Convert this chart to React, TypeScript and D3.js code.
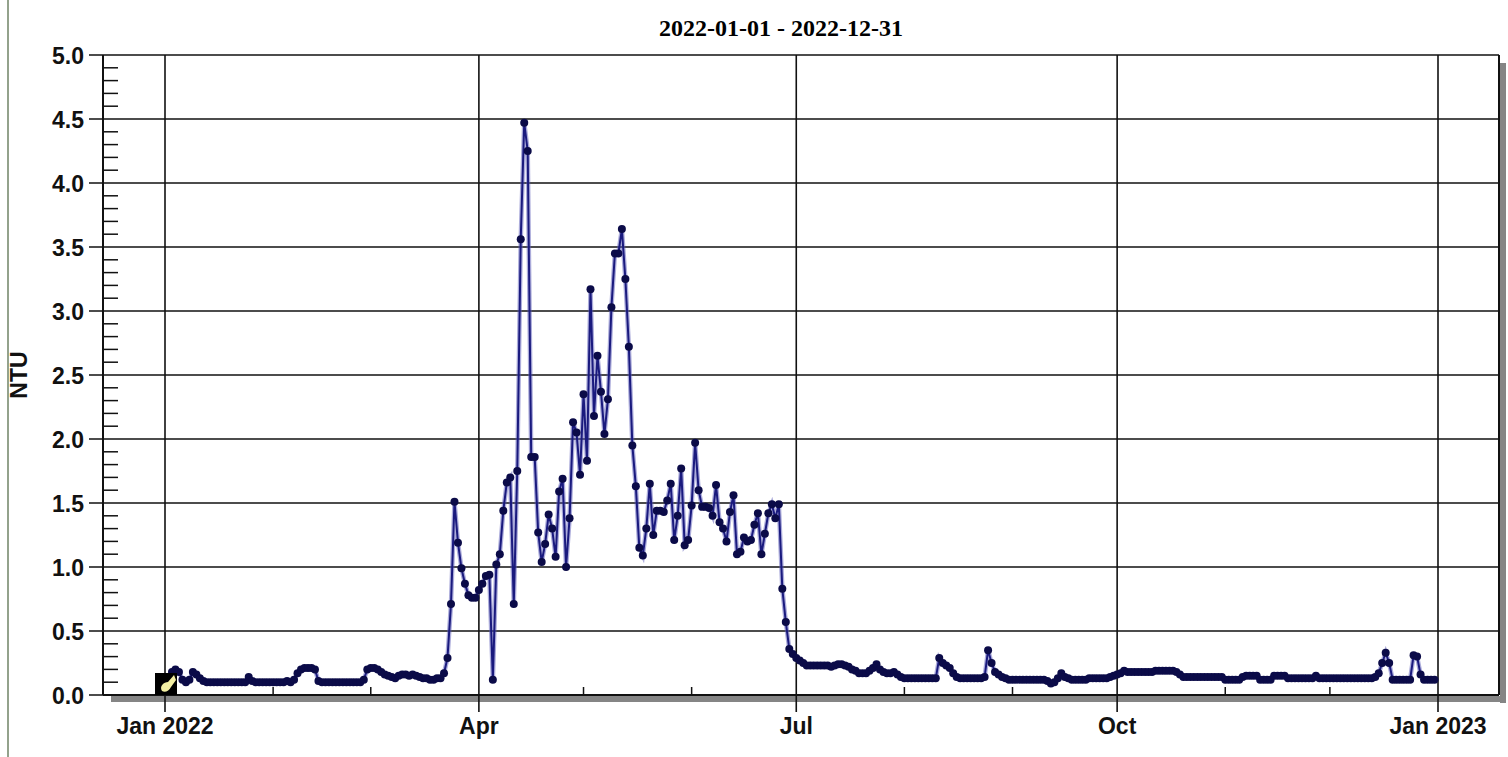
import { useEffect, useRef } from 'react'
import * as d3 from 'd3'

const title = '2022-01-01 - 2022-12-31'
const yLabel = 'NTU'
const startDate = '2022-01-01'

// daily NTU readings, one array per month
const jan = [0.10, 0.12, 0.18, 0.20, 0.18, 0.12, 0.10, 0.12, 0.18, 0.16, 0.13, 0.11, 0.10, 0.10, 0.10, 0.10, 0.10, 0.10, 0.10, 0.10, 0.10, 0.10, 0.10, 0.10, 0.14, 0.11, 0.10, 0.10, 0.10, 0.10, 0.10]
const feb = [0.10, 0.10, 0.10, 0.10, 0.11, 0.10, 0.12, 0.17, 0.20, 0.21, 0.21, 0.21, 0.20, 0.11, 0.10, 0.10, 0.10, 0.10, 0.10, 0.10, 0.10, 0.10, 0.10, 0.10, 0.10, 0.10, 0.12, 0.20]
const mar = [0.21, 0.21, 0.20, 0.18, 0.16, 0.15, 0.14, 0.13, 0.15, 0.16, 0.16, 0.15, 0.16, 0.15, 0.14, 0.13, 0.13, 0.12, 0.12, 0.13, 0.13, 0.17, 0.29, 0.71, 1.51, 1.19, 0.99, 0.87, 0.78, 0.76, 0.76]
const apr = [0.82, 0.87, 0.93, 0.94, 0.12, 1.02, 1.10, 1.44, 1.66, 1.70, 0.71, 1.75, 3.56, 4.47, 4.25, 1.86, 1.86, 1.27, 1.04, 1.18, 1.41, 1.30, 1.08, 1.59, 1.69, 1.00, 1.38, 2.13, 2.05, 1.72]
const may = [2.35, 1.83, 3.17, 2.18, 2.65, 2.37, 2.04, 2.31, 3.03, 3.45, 3.45, 3.64, 3.25, 2.72, 1.95, 1.63, 1.15, 1.09, 1.30, 1.65, 1.25, 1.44, 1.44, 1.43, 1.52, 1.65, 1.21, 1.40, 1.77, 1.17, 1.21]
const jun = [1.48, 1.97, 1.60, 1.47, 1.47, 1.46, 1.40, 1.64, 1.35, 1.30, 1.20, 1.43, 1.56, 1.10, 1.12, 1.23, 1.20, 1.21, 1.33, 1.42, 1.10, 1.26, 1.42, 1.49, 1.38, 1.49, 0.83, 0.57, 0.36, 0.32]
const jul = [0.29, 0.27, 0.25, 0.23, 0.23, 0.23, 0.23, 0.23, 0.23, 0.23, 0.22, 0.23, 0.24, 0.24, 0.23, 0.22, 0.20, 0.19, 0.17, 0.17, 0.17, 0.19, 0.21, 0.24, 0.20, 0.18, 0.17, 0.17, 0.18, 0.16, 0.14]
const aug = [0.13, 0.13, 0.13, 0.13, 0.13, 0.13, 0.13, 0.13, 0.13, 0.13, 0.29, 0.25, 0.23, 0.21, 0.17, 0.14, 0.13, 0.13, 0.13, 0.13, 0.13, 0.13, 0.13, 0.14, 0.35, 0.25, 0.18, 0.16, 0.14, 0.13, 0.12]
const sep = [0.12, 0.12, 0.12, 0.12, 0.12, 0.12, 0.12, 0.12, 0.12, 0.12, 0.11, 0.09, 0.10, 0.13, 0.17, 0.14, 0.13, 0.12, 0.12, 0.12, 0.12, 0.12, 0.13, 0.13, 0.13, 0.13, 0.13, 0.13, 0.14, 0.15]
const oct = [0.16, 0.17, 0.19, 0.18, 0.18, 0.18, 0.18, 0.18, 0.18, 0.18, 0.18, 0.19, 0.19, 0.19, 0.19, 0.19, 0.19, 0.18, 0.16, 0.14, 0.14, 0.14, 0.14, 0.14, 0.14, 0.14, 0.14, 0.14, 0.14, 0.14, 0.14]
const nov = [0.12, 0.12, 0.12, 0.12, 0.12, 0.14, 0.15, 0.15, 0.15, 0.15, 0.12, 0.12, 0.12, 0.12, 0.15, 0.15, 0.15, 0.15, 0.13, 0.13, 0.13, 0.13, 0.13, 0.13, 0.13, 0.13, 0.15, 0.13, 0.13, 0.13]
const dec = [0.13, 0.13, 0.13, 0.13, 0.13, 0.13, 0.13, 0.13, 0.13, 0.13, 0.13, 0.13, 0.13, 0.14, 0.17, 0.25, 0.33, 0.25, 0.12, 0.12, 0.12, 0.12, 0.12, 0.12, 0.31, 0.30, 0.16, 0.12, 0.12, 0.12, 0.12]

const yTicks = [0, 0.5, 1, 1.5, 2, 2.5, 3, 3.5, 4, 4.5, 5]
const xTickDates = ['2022-01-01', '2022-04-01', '2022-07-01', '2022-10-01', '2023-01-01']
const xTickLabels = ['Jan 2022', 'Apr', 'Jul', 'Oct', 'Jan 2023']

const utc = (s: string) => new Date(s + 'T00:00:00Z')

const labelFont = 'bold 23px "Liberation Sans", Arial, sans-serif'

function App() {
    const svg = useRef<SVGSVGElement>(null)

    useEffect(() => {
        const values = [...jan, ...feb, ...mar, ...apr, ...may, ...jun, ...jul, ...aug, ...sep, ...oct, ...nov, ...dec]
        const start = utc(startDate)
        const data = values.map((v, i) => ({ date: d3.utcDay.offset(start, i), value: v }))

        // plot frame
        const left = 103, right = 1499, top = 55, bottom = 695

        const xScale = d3.scaleUtc()
            .domain([utc(xTickDates[0]), utc(xTickDates[4])])
            .range([165, 1438])

        const yScale = d3.scaleLinear()
            .domain([0, 5])
            .range([bottom, top])

        const svgRef = d3.select(svg.current)
        svgRef.selectAll('*').remove()
        const g = svgRef.append('g')

        // page edge line on the left
        g.append('line')
            .attr('x1', 8).attr('x2', 8).attr('y1', 0).attr('y2', 757)
            .attr('stroke', '#93a28c').attr('stroke-width', 2)

        // drop shadow of the plot box
        g.append('rect').attr('x', left + 8).attr('y', bottom + 1).attr('width', right - left - 2).attr('height', 6).attr('fill', '#858585')
        g.append('rect').attr('x', right + 1).attr('y', top + 8).attr('width', 6).attr('height', bottom - top).attr('fill', '#858585')
        g.append('rect').attr('x', left).attr('y', top).attr('width', right - left).attr('height', bottom - top).attr('fill', '#fff')

        // horizontal grid lines with outer ticks
        g.selectAll('.hgrid')
            .data(yTicks)
            .join('line')
                .attr('class', 'hgrid')
                .attr('x1', 89).attr('x2', right)
                .attr('y1', d => yScale(d)).attr('y2', d => yScale(d))
                .attr('stroke', '#111').attr('stroke-width', 1.6)

        // minor y ticks
        const yMinor = d3.range(1, 50).filter(i => i % 5 !== 0).map(i => i / 10)
        g.selectAll('.yminor')
            .data(yMinor)
            .join('line')
                .attr('class', 'yminor')
                .attr('x1', left).attr('x2', left + 15)
                .attr('y1', d => yScale(d)).attr('y2', d => yScale(d))
                .attr('stroke', '#111').attr('stroke-width', 1.5)

        // vertical grid lines (quarters), extending below as ticks
        g.selectAll('.vgrid')
            .data(xTickDates)
            .join('line')
                .attr('class', 'vgrid')
                .attr('x1', d => xScale(utc(d))).attr('x2', d => xScale(utc(d)))
                .attr('y1', top).attr('y2', bottom + 17)
                .attr('stroke', '#111').attr('stroke-width', 1.6)

        // minor month ticks
        const months = d3.utcMonth.range(utc('2022-01-01'), utc('2023-01-01')).filter(d => d.getUTCMonth() % 3 !== 0)
        g.selectAll('.xminor')
            .data(months)
            .join('line')
                .attr('class', 'xminor')
                .attr('x1', d => xScale(d)).attr('x2', d => xScale(d))
                .attr('y1', bottom).attr('y2', bottom - 8)
                .attr('stroke', '#111').attr('stroke-width', 1.5)

        // frame
        g.append('line').attr('x1', left).attr('x2', left).attr('y1', top).attr('y2', bottom).attr('stroke', '#111').attr('stroke-width', 2)
        g.append('line').attr('x1', right).attr('x2', right).attr('y1', top).attr('y2', bottom).attr('stroke', '#111').attr('stroke-width', 2)
        g.append('line').attr('x1', left).attr('x2', right).attr('y1', bottom).attr('y2', bottom).attr('stroke', '#111').attr('stroke-width', 2)

        // the series
        const line = d3.line<{ date: Date, value: number }>()
            .x(d => xScale(d.date))
            .y(d => yScale(d.value))

        g.append('path')
            .datum(data)
            .attr('d', line)
            .attr('fill', 'none')
            .attr('stroke', '#5a5ab8')
            .attr('stroke-opacity', 0.5)
            .attr('stroke-width', 4.5)
        g.append('path')
            .datum(data)
            .attr('d', line)
            .attr('fill', 'none')
            .attr('stroke', '#1a1a7e')
            .attr('stroke-width', 2)

        g.selectAll('.dot')
            .data(data)
            .join('circle')
                .attr('class', 'dot')
                .attr('cx', d => xScale(d.date))
                .attr('cy', d => yScale(d.value))
                .attr('r', 4)
                .attr('fill', '#0b0b48')

        // little marker icon at the start
        const x0 = xScale(start)
        g.append('rect').attr('x', x0 - 10).attr('y', bottom - 22).attr('width', 22).attr('height', 22).attr('fill', '#000')
        g.append('path')
            .attr('d', `M${x0 - 3},${bottom - 4} C${x0 - 6},${bottom - 9} ${x0 - 1},${bottom - 13} ${x0 + 3},${bottom - 13} L${x0 + 9},${bottom - 20} L${x0 + 11},${bottom - 15} L${x0 + 6},${bottom - 8} C${x0 + 4},${bottom - 4} ${x0},${bottom - 2} ${x0 - 3},${bottom - 4} Z`)
            .attr('fill', '#f3efa2')

        // y tick labels
        g.selectAll('.ylab')
            .data(yTicks)
            .join('text')
                .attr('class', 'ylab')
                .attr('x', 84)
                .attr('y', d => yScale(d) + 1)
                .attr('dominant-baseline', 'central')
                .attr('text-anchor', 'end')
                .attr('fill', '#111')
                .style('font', labelFont)
                .text(d => d.toFixed(1))

        // x tick labels
        g.selectAll('.xlab')
            .data(xTickDates)
            .join('text')
                .attr('class', 'xlab')
                .attr('x', d => xScale(utc(d)))
                .attr('y', 734)
                .attr('text-anchor', 'middle')
                .attr('fill', '#111')
                .style('font', labelFont)
                .text((d, i) => xTickLabels[i])

        // title
        g.append('text')
            .attr('x', 781).attr('y', 36)
            .attr('text-anchor', 'middle')
            .attr('fill', '#000')
            .style('font', 'bold 24px "Liberation Serif", "Times New Roman", serif')
            .text(title)

        // y axis label
        g.append('text')
            .attr('transform', 'translate(19,375) rotate(-90)')
            .attr('text-anchor', 'middle')
            .attr('dominant-baseline', 'central')
            .attr('fill', '#111')
            .style('font', labelFont)
            .text(yLabel)
    }, [])

    return (
        <svg ref={svg} width={1508} height={757} style={{ position: 'absolute', left: 0, top: 0, background: '#fff' }}></svg>
    )
}

export default App
